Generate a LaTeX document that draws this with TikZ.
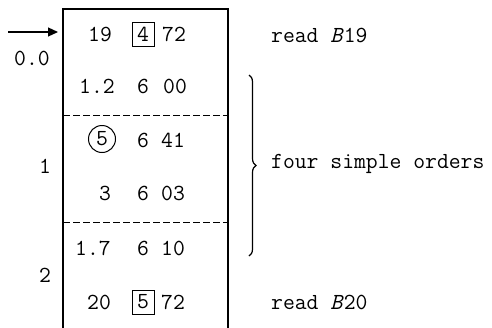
\documentclass[tikz,border=0pt]{standalone}
\usepackage{fontspec}
\usetikzlibrary{arrows.meta,decorations.pathreplacing}
\begin{document}
\begin{tikzpicture}[x=1pt,y=-1pt,
  txt/.style={inner sep=0pt,font=\ttfamily\fontsize{23}{24}\selectfont\addfontfeature{FakeBold=0.8}},
  boxed/.style={txt,draw,line width=1pt,minimum width=22pt,minimum height=24pt},
  circ/.style={txt,draw,circle,line width=1pt,minimum size=27pt},
  frame/.style={line width=1.2pt},
  sep/.style={line width=1pt,dash pattern=on 7pt off 3pt}]
\useasboundingbox (0,0) rectangle (492,327);
% frame
\coordinate (bl) at (63,330);
\coordinate (tl) at (63,9);
\coordinate (tr) at (228,9);
\coordinate (br) at (228,330);
\draw[frame] (bl) -- (tl) -- (tr) -- (br);
\coordinate (d1l) at (63,115); \coordinate (d1r) at (228,115);
\coordinate (d2l) at (63,222); \coordinate (d2r) at (228,222);
\draw[sep] (d1l) -- (d1r);
\draw[sep] (d2l) -- (d2r);
% row 1
\node[txt] (a1) at (100,34) {19};
\node[boxed] (b1) at (143,34) {4};
\node[txt] (c1) at (174,34) {72};
% row 2
\node[txt] (a2) at (97,86) {1.2};
\node[txt] (b2) at (143,86) {6};
\node[txt] (c2) at (175,86) {00};
% row 3
\node[circ] (a3) at (102,139) {5};
\node[txt] (b3) at (143,140) {6};
\node[txt] (c3) at (173,140) {41};
% row 4
\node[txt] (a4) at (105,193) {3};
\node[txt] (b4) at (143,193) {6};
\node[txt] (c4) at (173,193) {03};
% row 5
\node[txt] (a5) at (93,248) {1.7};
\node[txt] (b5) at (143,248) {6};
\node[txt] (c5) at (173,248) {10};
% row 6
\node[txt] (a6) at (99,302) {20};
\node[boxed] (b6) at (143,302) {5};
\node[txt] (c6) at (173,302) {72};
% left labels
\coordinate (arrs) at (8,32);
\coordinate (arre) at (58,32);
\draw[line width=1.2pt,-{Triangle[length=10pt,width=9pt]}] (arrs) -- (arre);
\node[txt] (l0) at (32,58) {0.0};
\node[txt] (l1) at (45,166) {1};
\node[txt] (l2) at (45,275) {2};
% right labels
\node[txt,anchor=west] (r1) at (271,35) {read \textit{B}19};
\coordinate (bt) at (249,75);
\coordinate (bb) at (249,256);
\draw[line width=1.2pt,decorate,decoration={brace,amplitude=7pt}] (bt) -- (bb);
\node[txt,anchor=west] (r2) at (271,164) {four simple orders};
\node[txt,anchor=west] (r3) at (271,302) {read \textit{B}20};
\end{tikzpicture}
\end{document}
